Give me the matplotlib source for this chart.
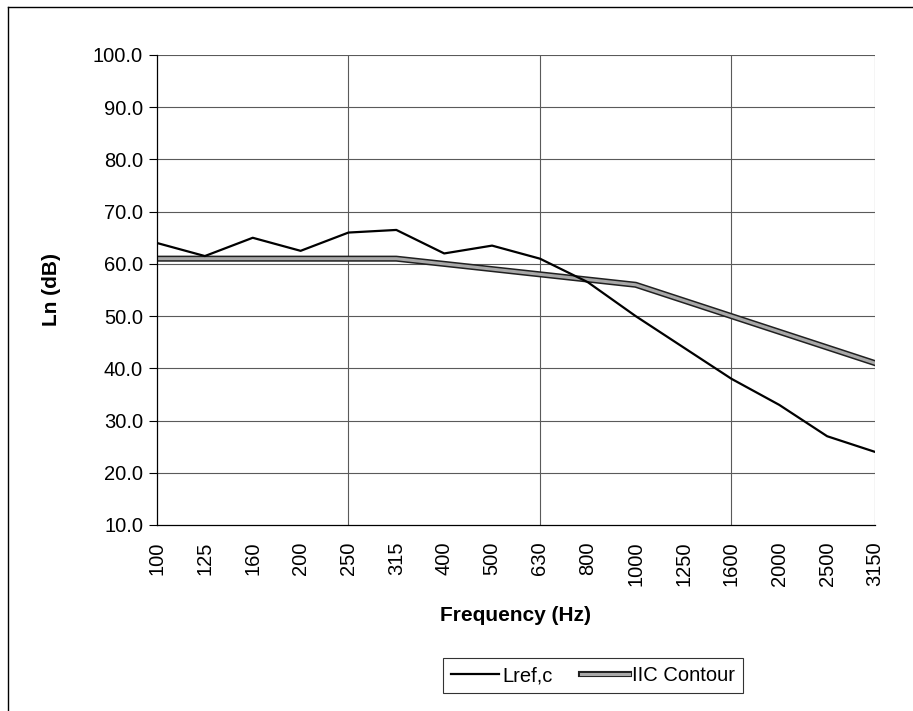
import numpy as np
import matplotlib
matplotlib.use("Agg")
import matplotlib.pyplot as plt
import matplotlib.patheffects as pe

plt.rcParams['font.family'] = ['Liberation Sans', 'DejaVu Sans']

# 1/3 octave bands
tan_so = ["100", "125", "160", "200", "250", "315", "400", "500", "630",
          "800", "1000", "1250", "1600", "2000", "2500", "3150"]
lref_c = [64.0, 61.5, 65.0, 62.5, 66.0, 66.5, 62.0, 63.5, 61.0,
          56.5, 50.0, 44.0, 38.0, 33.0, 27.0, 24.0]
iic = [61, 61, 61, 61, 61, 61, 60, 59, 58, 57, 56, 53, 50, 47, 44, 41]
y_ticks = [10, 20, 30, 40, 50, 60, 70, 80, 90, 100]

fig = plt.figure(figsize=(9.13, 7.11), dpi=100)
ax = fig.add_axes([157 / 913, 1 - 525 / 711, 718 / 913, 470 / 711])

x = np.arange(len(tan_so))
luoi = "#5a5a5a"

# luoi ngang + doc
for v in y_ticks[1:]:
    ax.axhline(v, color=luoi, lw=0.8, zorder=1)
for v in [4, 8, 12, 15]:
    ax.axvline(v, color=luoi, lw=0.8, zorder=1)

ax.plot(x, lref_c, color="black", lw=1.6, label="Lref,c", zorder=3)
ax.plot(x, iic, color="#a8a8a8", lw=2.2, label="IIC Contour", zorder=2,
        path_effects=[pe.Stroke(linewidth=4.4, foreground="#202020"), pe.Normal()])

ax.set_xlim(0, 15)
ax.set_ylim(10, 100)
ax.set_yticks(y_ticks)
ax.set_yticklabels(["%.1f" % v for v in y_ticks], fontsize=14.5)
ax.set_xticks(x)
ax.set_xticklabels(tan_so, rotation=90, fontsize=14.5)
ax.set_xticks(x[::2], minor=True)
ax.tick_params(axis="x", which="major", length=0, pad=12)
ax.tick_params(axis="x", which="minor", length=8, direction="inout", width=0.8)
ax.tick_params(axis="y", length=6, direction="out", width=0.8, pad=4)

for s in ["top", "right"]:
    ax.spines[s].set_visible(False)
for s in ["left", "bottom"]:
    ax.spines[s].set_linewidth(0.9)

ax.set_ylabel("Ln (dB)", fontsize=15, fontweight="bold", labelpad=23)
ax.set_xlabel("Frequency (Hz)", fontsize=15, fontweight="bold", labelpad=14)

leg = fig.legend(loc="center", bbox_to_anchor=(593 / 913, 1 - 675.5 / 711), ncol=2,
                 fontsize=14.5, frameon=True, fancybox=False, edgecolor="black",
                 handlelength=2.4, handletextpad=0.15, columnspacing=1.4,
                 borderpad=0.4)
leg.get_frame().set_linewidth(0.8)

# khung ngoai
fig.add_artist(plt.Line2D([8 / 913, 8 / 913], [0, 1 - 7 / 711], color="black",
                          lw=1, transform=fig.transFigure))
fig.add_artist(plt.Line2D([8 / 913, 1], [1 - 7 / 711, 1 - 7 / 711], color="black",
                          lw=1, transform=fig.transFigure))

fig.savefig("out.png", dpi=100)
